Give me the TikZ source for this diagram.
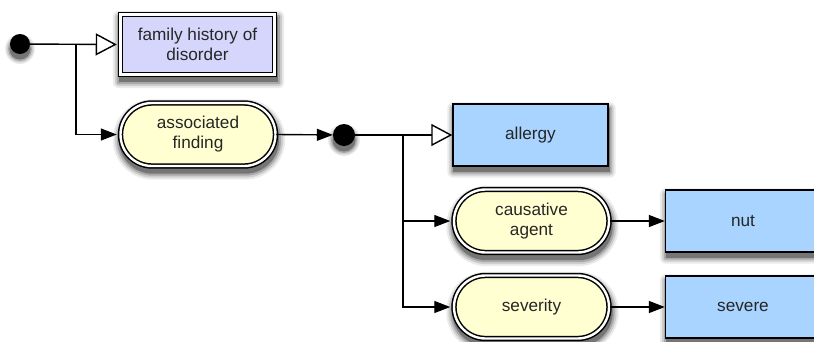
\documentclass[tikz,border=0pt]{standalone}
\usepackage{fontspec}
\setmainfont{Liberation Sans}
\usetikzlibrary{shapes.misc,arrows.meta,calc,backgrounds}
\definecolor{lav}{RGB}{214,214,252}
\definecolor{pale}{RGB}{255,255,210}
\definecolor{sky}{RGB}{168,212,255}
\newcommand{\shbox}[4]{%
  \foreach \k/\o in {6/0.08,4/0.12,2/0.18,0/0.3}{%
    \fill[black, fill opacity=\o, rounded corners=#4pt+\k pt]
      ($(#1.center)+(-#2-\k+1,-#3-\k+5)$) rectangle ($(#1.center)+(#2+\k+1,#3+\k+5)$);}}
\newcommand{\shdot}[2]{%
  \foreach \k/\o in {5/0.08,3.5/0.12,2/0.18,0.5/0.3}{%
    \fill[black, fill opacity=\o] ($(#1.center)+(0,5)$) circle (#2+\k);}}
\begin{document}
\begin{tikzpicture}[x=1pt,y=-1pt,
  every node/.style={font=\fontsize{17.2}{20}\selectfont, text=black!85, align=center, inner sep=0pt},
  dbl/.style={draw=black, line width=1.5pt, double=white, double distance=2.4pt},
  famstyle/.style={rectangle, dbl, fill=lav, minimum width=154pt, minimum height=60pt},
  pill/.style={rounded rectangle, dbl, fill=pale, minimum width=155pt, minimum height=63pt},
  valbox/.style={rectangle, draw=black, line width=1.4pt, fill=sky, minimum width=155pt, minimum height=62pt},
  dotnode/.style={circle, fill=black, minimum size=20pt},
  conn/.style={line width=1.4pt},
  openarr/.style={conn, -{Triangle[open,length=21pt,width=22pt,fill=white]}},
  fillarr/.style={conn, -{Triangle[length=16pt,width=12pt]}}
]
\useasboundingbox (0,0) rectangle (814,341);
\clip (0,0) rectangle (814,341);

\node[dotnode] (d1) at (20,44) {};
\node[famstyle] (fam) at (197.5,44.5) {family history of\\disorder};
\node[pill] (assoc) at (198,134.5) {associated\\finding};
\node[dotnode, minimum size=22pt] (d2) at (344,135) {};
\node[valbox] (allergy) at (530.5,135) {allergy};
\node[pill] (caus) at (531.5,221) {causative\\agent};
\node[pill] (sev) at (531.5,307) {severity};
\node[valbox] (nut) at (743,221) {nut};
\node[valbox] (severe) at (743,307) {severe};

\coordinate (b1) at (76,44);
\coordinate (b2) at (403,135);

\draw[openarr, shorten >=3pt] (d1) -- (fam.west);
\draw[fillarr, shorten >=3pt] (b1) |- (assoc.west);
\draw[fillarr] (assoc.east) -- (d2);
\draw[openarr] (d2) -- (allergy.west);
\draw[fillarr, shorten >=3pt] (b2) |- (caus.west);
\draw[fillarr, shorten >=3pt] (b2) |- (sev.west);
\draw[fillarr] (caus.east) -- (nut.west);
\draw[fillarr] (sev.east) -- (severe.west);

\begin{scope}[on background layer]
  \fill[white] (0,0) rectangle (814,341);
  \shdot{d1}{10}
  \shdot{d2}{11}
  \shbox{fam}{79.7}{32.7}{0}
  \shbox{assoc}{80.2}{34.2}{34}
  \shbox{caus}{80.2}{34.2}{34}
  \shbox{sev}{80.2}{34.2}{34}
  \shbox{allergy}{78.2}{31.7}{0}
  \shbox{nut}{78.2}{31.7}{0}
  \shbox{severe}{78.2}{31.7}{0}
\end{scope}
\end{tikzpicture}
\end{document}
